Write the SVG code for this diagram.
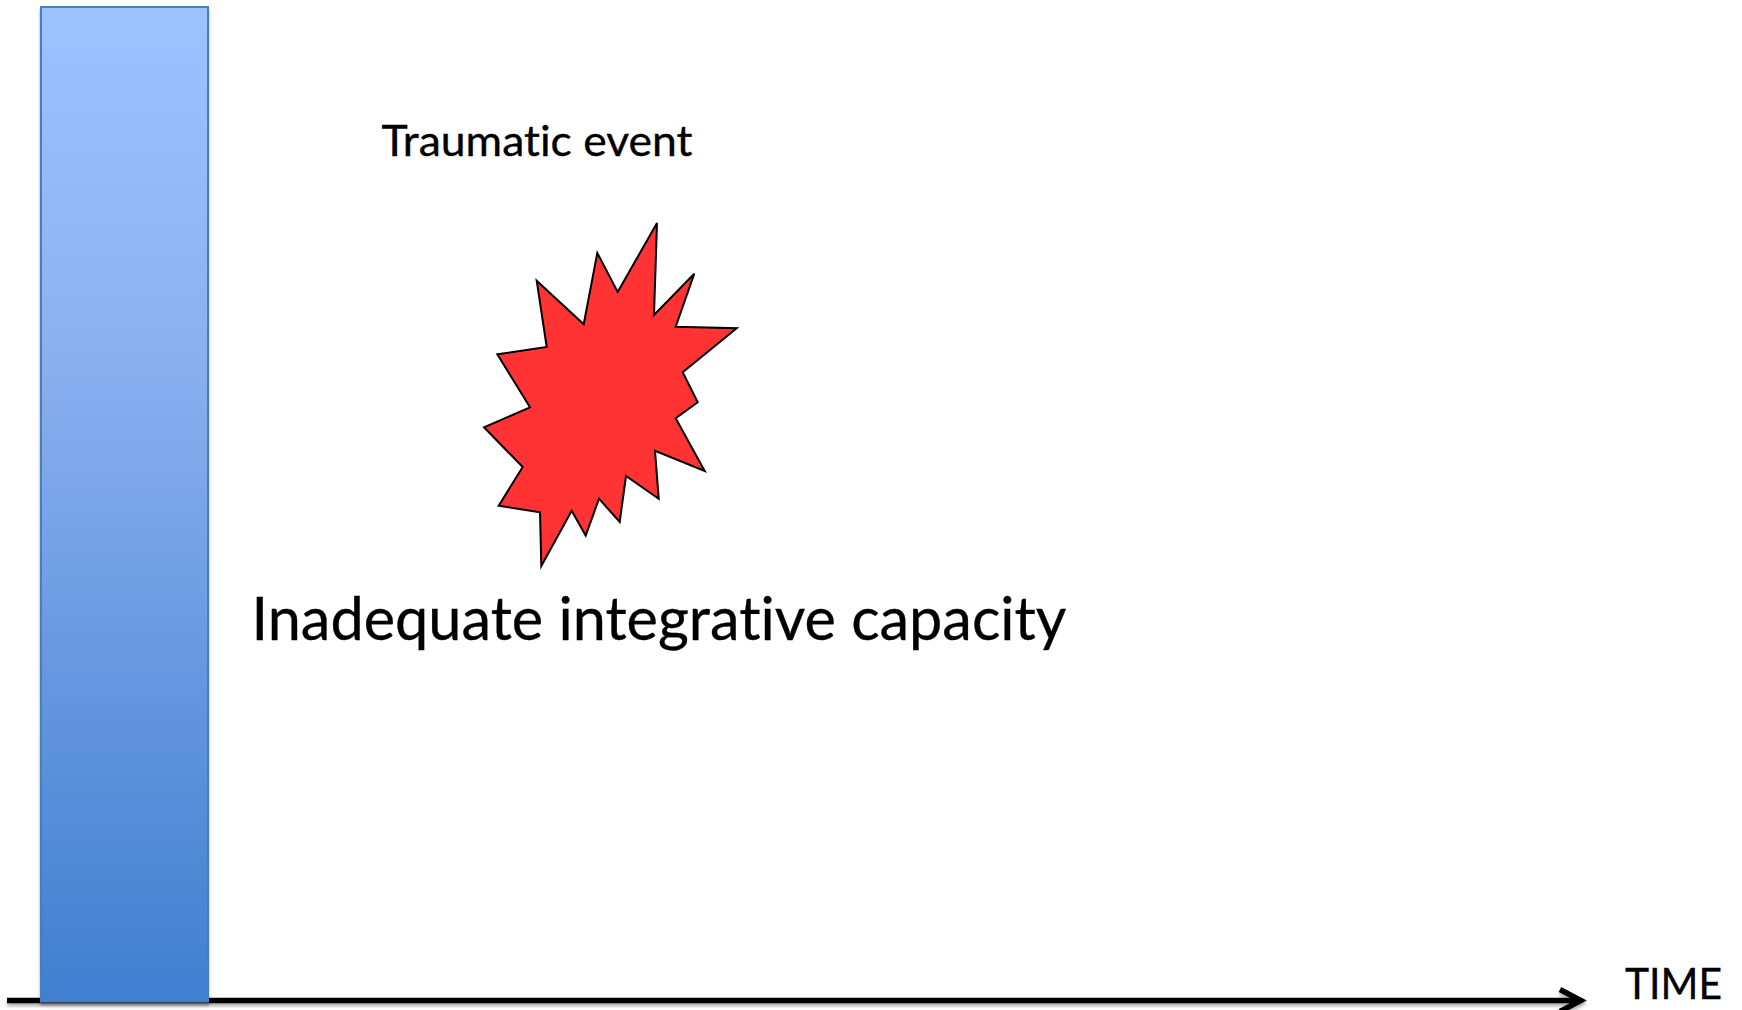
<svg xmlns="http://www.w3.org/2000/svg" width="1742" height="1010" viewBox="0 0 1742 1010">
<style>
text{font-family:"Lato","Liberation Sans",sans-serif;fill:#000;stroke:#000;stroke-width:.35;font-variant-ligatures:none}
.soft{filter:url(#shadow)}
</style>
<defs>
<linearGradient id="barFill" x1="0" y1="0" x2="0" y2="1">
<stop offset="0" stop-color="#9dc3ff"/>
<stop offset="0.35" stop-color="#8ab0ef"/>
<stop offset="1" stop-color="#3f7fcf"/>
</linearGradient>
<filter id="shadow" x="-5%" y="-5%" width="110%" height="110%">
<feDropShadow dx="0" dy="3" stdDeviation="1.5" flood-color="#000" flood-opacity="0.35"/>
</filter>
<filter id="lineShadow" x="-2%" y="-300%" width="104%" height="700%">
<feDropShadow dx="0" dy="3" stdDeviation="1.5" flood-color="#000" flood-opacity="0.3"/>
</filter>
</defs>
<rect width="1742" height="1010" fill="#fff"/>
<g id="connectors" filter="url(#lineShadow)">
<path id="time-axis" d="M7 1000.5H1580M1560 989.5L1581 1000.5L1560 1011.500" fill="none" stroke="#000" stroke-width="5.4"/>
</g>
<g id="bar">
<rect class="soft" x="41" y="7" width="167" height="994.500" fill="url(#barFill)" stroke="#4a7ebb" stroke-width="2"/>
</g>
<g id="traumatic-event">
<text x="381.500" y="156" font-size="42" textLength="311" lengthAdjust="spacingAndGlyphs">Traumatic event</text>
<polygon points="536.700,280.700 583.700,324.300 597.300,253 617.700,292 657,223 654,315 694.300,273.700 675.700,326.700 736.700,328.300 682.700,372.300 697.700,402.300 675.700,418.300 704.700,471 655,450.700 658.700,498.700 626,476 619.700,522 599,498.700 585.700,535.700 571.700,510.700 541.300,566 540,512.300 498.700,505.700 522.700,467 484,427.300 530,407.300 497.300,354.300 546.700,347" fill="#ff3333" stroke="#000" stroke-width="2"/>
</g>
<g id="inadequate-capacity">
<text x="251.500" y="640" font-size="60" textLength="815" lengthAdjust="spacingAndGlyphs">Inadequate integrative capacity</text>
</g>
<g id="time-label">
<text x="1625" y="999" font-size="42" textLength="97" lengthAdjust="spacingAndGlyphs">TIME</text>
</g>
</svg>
